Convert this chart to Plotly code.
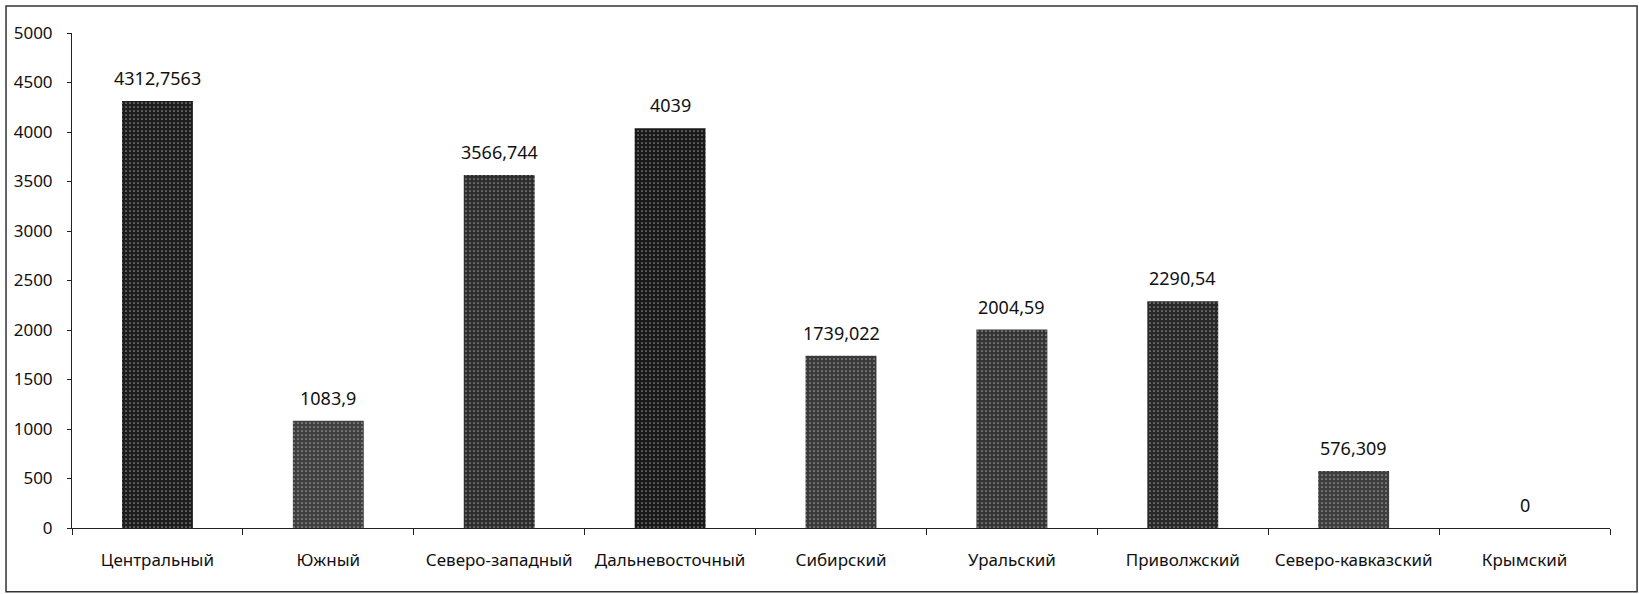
import plotly.graph_objects as go

categories = ["Центральный", "Южный", "Северо-западный", "Дальневосточный", "Сибирский",
              "Уральский", "Приволжский", "Северо-кавказский", "Крымский"]
values = [4312.7563, 1083.9, 3566.744, 4039, 1739.022, 2004.59, 2290.54, 576.309, 0]
labels = ["4312,7563", "1083,9", "3566,744", "4039", "1739,022", "2004,59", "2290,54", "576,309", "0"]
y_ticks = [0, 500, 1000, 1500, 2000, 2500, 3000, 3500, 4000, 4500, 5000]
bar_colors = ["#1e1e1e", "#404040", "#2e2e2e", "#1a1a1a", "#3a3a3a",
              "#353535", "#282828", "#3e3e3e", "#353535"]

FONT = "Noto Sans"

fig = go.Figure(go.Bar(
    x=categories, y=values,
    marker=dict(color=bar_colors, line=dict(width=0),
                pattern=dict(shape=".", fgcolor="#8a8a8a", size=4, solidity=0.15)),
))

for c, v, t in zip(categories, values, labels):
    fig.add_annotation(x=c, y=v, text=t, showarrow=False, yanchor="bottom",
                       yshift=9, font=dict(family=FONT, size=18, color="#111111"))

fig.update_layout(
    width=1639, height=594,
    margin=dict(l=72, r=29, t=33, b=66),
    paper_bgcolor="white", plot_bgcolor="white",
    bargap=0.585, showlegend=False,
    font=dict(family=FONT, size=16, color="#111111"),
    shapes=[dict(type="rect", xref="paper", yref="paper",
                 x0=-0.0429, x1=1.0176, y0=-0.129, y1=1.0545,
                 line=dict(color="#333333", width=1.5), layer="below")],
)
fig.update_xaxes(
    showline=True, linecolor="#222222", linewidth=1,
    ticks="outside", tickson="boundaries", ticklen=6, tickcolor="#222222",
    ticklabelstandoff=17, showgrid=False,
    tickfont=dict(family=FONT, size=17, color="#111111"),
)
fig.update_yaxes(
    range=[0, 5000], tickvals=y_ticks, showline=True, linecolor="#222222", linewidth=1,
    ticks="outside", ticklen=4, tickcolor="#222222", showgrid=False, zeroline=False,
    ticklabelstandoff=11,
    tickfont=dict(family=FONT, size=17, color="#111111"),
)

fig.write_html("out.html", config={"displayModeBar": False},
               post_script="document.body.style.margin='0';")
